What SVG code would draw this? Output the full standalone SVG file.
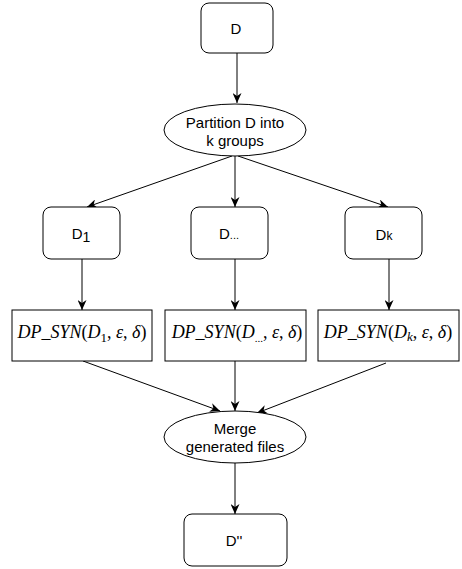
<svg xmlns="http://www.w3.org/2000/svg" width="462" height="569" viewBox="0 0 462 569">
<style>
.box{fill:#fff;stroke:#000;stroke-width:1}
.edge{fill:none;stroke:#000;stroke-width:1;marker-end:url(#arr)}
.lbl{font-family:"Liberation Sans",Arial,sans-serif;font-size:15px;fill:#000;text-anchor:middle}
.el{font-family:"Liberation Sans",Arial,sans-serif;font-size:15px;fill:#000;text-anchor:middle}
.m{font-family:"Liberation Serif","Times New Roman",serif;font-size:18px;fill:#000;text-anchor:middle}
.i{font-style:italic}
</style>
<defs>
<marker id="arr" viewBox="0 0 10 9" refX="10" refY="4.5" markerWidth="10" markerHeight="9" markerUnits="userSpaceOnUse" orient="auto">
<path d="M0,0 L10,4.5 L0,9 L3,4.5 Z" fill="#000"/>
</marker>
</defs>
<g id="connectors">
<line class="edge" x1="237" y1="53" x2="237" y2="103"/>
<line class="edge" x1="232" y1="156" x2="87" y2="207"/>
<line class="edge" x1="235" y1="156" x2="235" y2="207"/>
<line class="edge" x1="238" y1="156" x2="388" y2="207"/>
<line class="edge" x1="82" y1="259" x2="82" y2="310"/>
<line class="edge" x1="235" y1="259" x2="235" y2="310"/>
<line class="edge" x1="389" y1="259" x2="389" y2="310"/>
<line class="edge" x1="83" y1="361" x2="220" y2="411"/>
<line class="edge" x1="235" y1="361" x2="235" y2="411"/>
<line class="edge" x1="386" y1="363" x2="257" y2="413"/>
<line class="edge" x1="235" y1="463" x2="235" y2="514"/>
</g>
<g id="D">
<rect class="box" x="201" y="3" width="72" height="50" rx="8"/>
<text class="lbl" x="236" y="34">D</text>
</g>
<g id="partition">
<ellipse class="box" cx="235" cy="130" rx="71" ry="26"/>
<text class="el" x="235" y="128">Partition D into</text>
<text class="el" x="235" y="146">k groups</text>
</g>
<g id="D1">
<rect class="box" x="43" y="207" width="77" height="52" rx="8"/>
<text class="lbl" x="81" y="239">D<tspan font-size="14" dy="3">1</tspan></text>
</g>
<g id="Dmid">
<rect class="box" x="191" y="207" width="77" height="52" rx="8"/>
<text class="lbl" x="229" y="239">D<tspan font-size="11">...</tspan></text>
</g>
<g id="Dk">
<rect class="box" x="345" y="207" width="77" height="52" rx="8"/>
<text class="lbl" x="384" y="240">D<tspan font-size="12">k</tspan></text>
</g>
<g id="syn1">
<rect class="box" x="12" y="310" width="140" height="51"/>
<text class="m" x="82" y="338"><tspan class="i">DP_SYN</tspan>(<tspan class="i">D</tspan><tspan font-size="13" dy="4">1</tspan><tspan dy="-4">, </tspan><tspan class="i">ε</tspan>, <tspan class="i">δ</tspan>)</text>
</g>
<g id="synmid">
<rect class="box" x="165" y="310" width="141" height="51"/>
<text class="m" x="237" y="338"><tspan class="i">DP_SYN</tspan>(<tspan class="i">D</tspan><tspan font-size="11" dy="4">...</tspan><tspan dy="-4">, </tspan><tspan class="i">ε</tspan>, <tspan class="i">δ</tspan>)</text>
</g>
<g id="synk">
<rect class="box" x="318" y="310" width="141" height="51"/>
<text class="m" x="388" y="338"><tspan class="i">DP_SYN</tspan>(<tspan class="i">D</tspan><tspan class="i" font-size="13" dy="3">k</tspan><tspan dy="-3">, </tspan><tspan class="i">ε</tspan>, <tspan class="i">δ</tspan>)</text>
</g>
<g id="merge">
<ellipse class="box" cx="235" cy="437" rx="71" ry="26"/>
<text class="el" x="235" y="434">Merge</text>
<text class="el" x="235" y="452">generated files</text>
</g>
<g id="Dout">
<rect class="box" x="184" y="514" width="103" height="52" rx="8"/>
<text class="lbl" x="234" y="546">D''</text>
</g>
</svg>
